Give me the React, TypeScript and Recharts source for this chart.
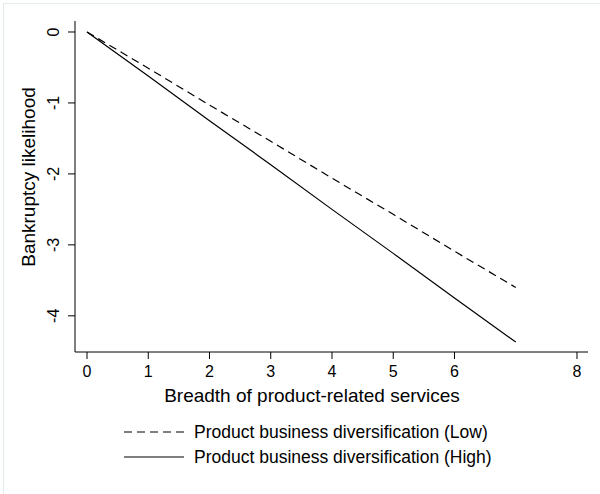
import React from "react";
import { LineChart, Line, XAxis, YAxis } from "recharts";

// services breadth (x) and predicted bankruptcy likelihood for the two groups
const breadth = [0, 1, 2, 3, 4, 5, 6, 7];
const lowDiversification = [0, -0.51, -1.03, -1.54, -2.06, -2.57, -3.09, -3.6];
const highDiversification = [0, -0.62, -1.25, -1.87, -2.5, -3.12, -3.75, -4.37];
const seriesNames = [
  "Product business diversification (Low)",
  "Product business diversification (High)",
];
const xTicks = [0, 1, 2, 3, 4, 5, 6, 8];
const yTicks = [0, -1, -2, -3, -4];

const FONT = "'Liberation Sans', Arial, Helvetica, sans-serif";

const data = breadth.map((b, i) => ({
  x: b,
  low: lowDiversification[i],
  high: highDiversification[i],
}));

const YTick = (props: any) => {
  const { x, y, payload } = props;
  const bx = x - 7;
  return (
    <text
      x={bx}
      y={y}
      transform={`rotate(-90 ${bx} ${y})`}
      textAnchor="middle"
      fontSize={16}
      fontFamily={FONT}
      fill="#000"
    >
      {payload.value}
    </text>
  );
};

export default function App() {
  return (
    <div style={{ position: "absolute", left: 0, top: 0, width: 600, height: 494, background: "#fff" }}>
      <div
        style={{
          position: "absolute",
          left: 3,
          top: 3,
          width: 597,
          height: 491,
          borderLeft: "1px solid #e4ebef",
          borderTop: "1px solid #e4ebef",
        }}
      />
      <div style={{ position: "absolute", left: 0, top: 0 }}>
        <LineChart width={600} height={494} data={data} margin={{ top: 21, right: 12, left: 0, bottom: 102 }}>
          <XAxis
            dataKey="x"
            type="number"
            domain={[-0.196, 8.18]}
            ticks={xTicks}
            allowDataOverflow
            height={40}
            tickSize={7}
            tickMargin={7}
            stroke="#000"
            tick={{ fill: "#000", fontSize: 16, fontFamily: FONT }}
          />
          <YAxis
            type="number"
            domain={[-4.51, 0.155]}
            ticks={yTicks}
            allowDataOverflow
            width={75}
            tickSize={7}
            stroke="#000"
            tick={<YTick />}
          />
          <Line
            dataKey="low"
            stroke="#000"
            strokeWidth={1.2}
            strokeDasharray="8 5"
            dot={false}
            isAnimationActive={false}
          />
          <Line
            dataKey="high"
            stroke="#000"
            strokeWidth={1.2}
            dot={false}
            isAnimationActive={false}
          />
        </LineChart>
      </div>
      <svg
        width={600}
        height={494}
        style={{ position: "absolute", left: 0, top: 0, pointerEvents: "none" }}
        fontFamily={FONT}
      >
        <text x={35} y={177} transform="rotate(-90 35 177)" textAnchor="middle" fontSize={19} fill="#000">
          Bankruptcy likelihood
        </text>
        <text x={312} y={402} textAnchor="middle" fontSize={19} fill="#000">
          Breadth of product-related services
        </text>
        <line x1={124} x2={184} y1={432} y2={432} stroke="#000" strokeWidth={1.2} strokeDasharray="8 5" />
        <text x={194} y={437.5} fontSize={17.5} fill="#000">
          {seriesNames[0]}
        </text>
        <line x1={124} x2={184} y1={457} y2={457} stroke="#000" strokeWidth={1.2} />
        <text x={194} y={463} fontSize={17.5} fill="#000">
          {seriesNames[1]}
        </text>
      </svg>
    </div>
  );
}
